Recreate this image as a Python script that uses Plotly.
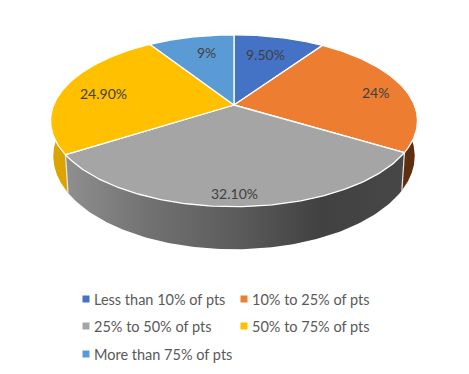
import numpy as np
import plotly.graph_objects as go

categories = ["Less than 10% of pts", "10% to 25% of pts", "25% to 50% of pts",
              "50% to 75% of pts", "More than 75% of pts"]
values = [9.5, 24, 32.1, 24.9, 9]
value_labels = ["9.50%", "24%", "32.10%", "24.90%", "9%"]

colors = ["#4472C4", "#ED7D31", "#A5A5A5", "#FFC000", "#5B9BD5"]
side_colors = ["#2F5597", "#5E2F0F", "#6E6E6E", "#DBA400", "#3E78B0"]
label_xy = [(265, 54), (375, 92), (234, 193), (103, 93), (206, 52)]
legend_xy = [(86, 299), (244, 299), (86, 326), (244, 326), (86, 354)]

CX, AY, A, B, K = 234.0, 105.0, 180.4, 83.1, 0.1826
AY2, A2, B2 = 138.9, 177.7, 90.2
W, H, BODY = 469, 374, 8  # page body has an 8px margin


def top_rim(t):
    u, v = np.sin(t), np.cos(t)
    w = 1 + K * v
    return CX + A * u / w, AY - B * v / w


def low_rim(t):
    u, v = np.sin(t), np.cos(t)
    w = 1 + K * v
    return CX + A2 * u / w, AY2 - B2 * v / w


fracs = np.array(values) / sum(values)
edges = np.concatenate([[0], np.cumsum(fracs)]) * 2 * np.pi

fig = go.Figure()

# side walls (front half only; top faces cover the rest)
for i, c in enumerate(categories):
    a0, a1 = max(edges[i], np.pi / 2), min(edges[i + 1], 3 * np.pi / 2)
    if a1 <= a0:
        continue
    t = np.linspace(a0, a1, 120)
    xt, yt = top_rim(t)
    xb, yb = low_rim(t)
    xs = np.concatenate([xt, xb[::-1], xt[:1]])
    ys = np.concatenate([yt, yb[::-1], yt[:1]])
    kw = dict(fillcolor=side_colors[i])
    if i == 2:
        kw = dict(fillgradient=dict(
            type="horizontal", start=65, stop=405,
            colorscale=[[0, "#8F8F8F"], [0.25, "#717171"], [0.5, "#5C5C5C"],
                        [0.75, "#414141"], [1, "#474747"]]))
    fig.add_trace(go.Scatter(x=xs, y=ys, mode="lines", fill="toself",
                             line=dict(width=0), showlegend=False, hoverinfo="skip", **kw))

# white seams between visible side walls
for e in edges[1:-1]:
    if np.pi / 2 < e < 3 * np.pi / 2:
        xt, yt = top_rim(e)
        xb, yb = low_rim(e)
        fig.add_trace(go.Scatter(x=[xt, xb], y=[yt, yb], mode="lines",
                                 line=dict(color="#E8E8E8", width=1.2),
                                 showlegend=False, hoverinfo="skip"))

# top faces
for i, c in enumerate(categories):
    t = np.linspace(edges[i], edges[i + 1], 120)
    xr, yr = top_rim(t)
    xs = np.concatenate([[CX], xr, [CX]])
    ys = np.concatenate([[AY], yr, [AY]])
    fig.add_trace(go.Scatter(x=xs, y=ys, mode="lines", fill="toself", fillcolor=colors[i],
                             line=dict(color="white", width=1.3), showlegend=False,
                             name=c, hoverinfo="name"))

for (x, y), s in zip(label_xy, value_labels):
    fig.add_annotation(x=x, y=y, xref="x", yref="y", text=s, showarrow=False,
                       font=dict(family="Lato", size=14, color="#404040"))

# legend keys and labels
for i, c in enumerate(categories):
    x, y = legend_xy[i]
    fig.add_trace(go.Scatter(x=[x], y=[y], mode="markers", name=c, showlegend=False,
                             marker=dict(symbol="square", size=7, color=colors[i]),
                             hoverinfo="name"))
    fig.add_annotation(x=x + 8, y=y, xref="x", yref="y", text=c, showarrow=False,
                       xanchor="left", xshift=-2,
                       font=dict(family="Lato", size=14.5, color="#595959"))

fig.update_layout(
    width=W - BODY, height=H - BODY, margin=dict(l=0, r=0, t=0, b=0), autosize=False,
    paper_bgcolor="white", plot_bgcolor="white",
    xaxis=dict(range=[BODY, W], visible=False, fixedrange=True),
    yaxis=dict(range=[H, BODY], visible=False, fixedrange=True),
)
fig.write_html("out.html", config=dict(displayModeBar=False))
